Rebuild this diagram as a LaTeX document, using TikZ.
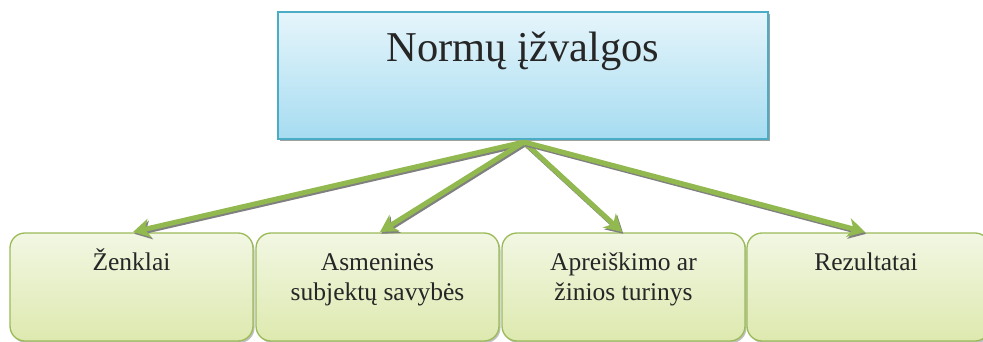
\documentclass[tikz,border=0pt]{standalone}
\usepackage{fontspec}
\setmainfont{Liberation Serif}
\usetikzlibrary{shadows,arrows.meta}
\definecolor{topbord}{HTML}{4BACC6}
\definecolor{toptop}{HTML}{E6F5FB}
\definecolor{topbot}{HTML}{A6DCF1}
\definecolor{grbord}{HTML}{9BBB59}
\definecolor{grtop}{HTML}{F2F7E3}
\definecolor{grbot}{HTML}{DDE9AF}
\definecolor{arrowgr}{HTML}{92B950}
\tikzset{
  topbox/.style={draw=topbord, line width=1.3pt, top color=toptop, bottom color=topbot,
    drop shadow={shadow xshift=1.5pt, shadow yshift=-2.5pt, opacity=0.75, fill=gray}},
  subbox/.style={draw=grbord, line width=1.3pt, rounded corners=15pt, top color=grtop, bottom color=grbot,
    drop shadow={shadow xshift=1.5pt, shadow yshift=-2pt, opacity=0.5, fill=gray}},
  conn/.style={draw=arrowgr, line width=5pt, -{Stealth[length=17pt, width=19pt, inset=5pt]},
    preaction={draw=gray, line width=5pt, transform canvas={xshift=1.3pt, yshift=-1.8pt}, -{Stealth[length=17pt, width=19pt, inset=5pt]}}},
  lbl/.style={font=\fontsize{25.5}{30}\selectfont, align=center, text=black!85, anchor=base}
}
\begin{document}
\begin{tikzpicture}[x=1pt, y=-1pt]
\useasboundingbox (0,0) rectangle (983,342);
\draw[topbox] (278,12) rectangle (768,139);
\node[font=\fontsize{42.5}{50}\selectfont, text=black!85, anchor=base] (title) at (523,62) {Normų įžvalgos};
\coordinate (src) at (524,142);
\draw[subbox] (10,233) rectangle (253,341);
\draw[subbox] (256,233) rectangle (499,341);
\draw[subbox] (502,233) rectangle (745,341);
\draw[subbox] (747,233) rectangle (990,341);
\coordinate (t1) at (133,232);
\coordinate (t2) at (380,232);
\coordinate (t3) at (622,232);
\coordinate (t4) at (865,232);
\node[lbl] (l1) at (131.5,270) {Ženklai};
\node[lbl] (l2) at (377.5,300) {Asmeninės\\subjektų savybės};
\node[lbl] (l3) at (623.5,300) {Apreiškimo ar\\žinios turinys};
\node[lbl] (l4) at (866,270) {Rezultatai};
\draw[conn] (src) -- (t1);
\draw[conn] (src) -- (t2);
\draw[conn] (src) -- (t3);
\draw[conn] (src) -- (t4);
\end{tikzpicture}
\end{document}
